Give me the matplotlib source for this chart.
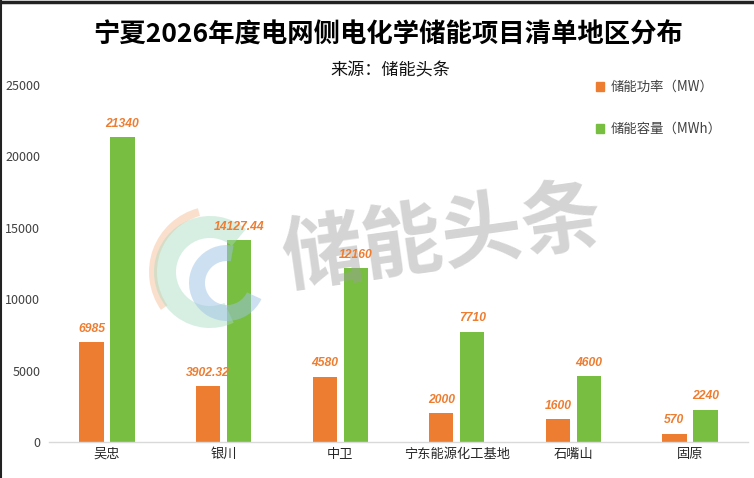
import matplotlib
matplotlib.use('Agg')
import matplotlib.pyplot as plt
from matplotlib.patches import Patch, Wedge
from matplotlib.lines import Line2D
import numpy as np

categories = ['吴忠', '银川', '中卫', '宁东能源化工基地', '石嘴山', '固原']
power_mw = [6985, 3902.32, 4580, 2000, 1600, 570]
capacity_mwh = [21340, 14127.44, 12160, 7710, 4600, 2240]
power_labels = ['6985', '3902.32', '4580', '2000', '1600', '570']
capacity_labels = ['21340', '14127.44', '12160', '7710', '4600', '2240']
yticks = [0, 5000, 10000, 15000, 20000, 25000]
series_names = ['储能功率（MW）', '储能容量（MWh）']
title = '宁夏2026年度电网侧电化学储能项目清单地区分布'
subtitle = '来源：储能头条'
watermark = '储能头条'

plt.rcParams['font.family'] = ['Noto Sans CJK SC', 'DejaVu Sans']

W, H = 754, 478
fig = plt.figure(figsize=(W / 100, H / 100), dpi=100)
fig.patch.set_facecolor('white')
ax = fig.add_axes([48.7 / W, 1 - 442 / H, 699.6 / W, 357 / H])

ORANGE = '#ED7D31'
GREEN = '#78BE40'
x = np.arange(len(categories))
bw = 0.206
off = 0.133
ax.bar(x - off, power_mw, bw, color=ORANGE, zorder=2)
ax.bar(x + off, capacity_mwh, bw, color=GREEN, zorder=2)
ax.set_xlim(-0.5, len(categories) - 0.5)
ax.set_ylim(0, 25000)
for s in ['top', 'right', 'left']:
    ax.spines[s].set_visible(False)
ax.spines['bottom'].set_color('#D9D9D9')
ax.spines['bottom'].set_linewidth(1.0)
ax.tick_params(axis='both', length=0)
ax.set_yticks(yticks)
ax.set_yticklabels([str(v) for v in yticks], fontsize=9, color='#404040')
ax.set_xticks(x)
ax.set_xticklabels(categories, fontsize=9.5, color='#262626')
ax.tick_params(axis='x', pad=4)
ax.tick_params(axis='y', pad=6)

lab_kw = dict(textcoords='offset points', ha='center', va='bottom',
              fontfamily='Liberation Sans', fontweight='bold', fontstyle='italic',
              fontsize=8.7, color=ORANGE, zorder=6, annotation_clip=False)
for xi, v, t in zip(x - off, power_mw, power_labels):
    ax.annotate(t, (xi, v), xytext=(0, 5.5), **lab_kw)
for xi, v, t in zip(x + off, capacity_mwh, capacity_labels):
    ax.annotate(t, (xi, v), xytext=(0, 5.5), **lab_kw)

# watermark
ax.text(443 / W, 1 - 240 / H, watermark, transform=fig.transFigure, fontsize=58,
        fontweight='bold', color='#A0A0A0', alpha=0.45, rotation=8,
        ha='center', va='center', zorder=4, clip_on=False)

# logo (pixel coords -> inches)
def px(xp, yp):
    return (xp / 100, (H - yp) / 100)

logo = [
    (px(215, 272), 0.66, 0.08, 105, 215, '#F4B183', 0.4),
    (px(210, 272), 0.56, 0.22, 50, 295, '#A8DCC0', 0.45),
    (px(227, 283), 0.38, 0.16, 80, 335, '#9DC3E6', 0.5),
]
for c, r, w, t1, t2, col, a in logo:
    wd = Wedge(c, r, t1, t2, width=w, transform=fig.dpi_scale_trans,
               facecolor=col, edgecolor='none', alpha=a, zorder=3, clip_on=False)
    ax.add_patch(wd)

handles = [Patch(color=ORANGE, label=series_names[0]),
           Patch(color=GREEN, label=series_names[1])]
leg = ax.legend(handles=handles, loc='upper left', bbox_to_anchor=(596 / W, 1 - 80 / H),
                bbox_transform=fig.transFigure, frameon=False, fontsize=9.6,
                handlelength=0.6, handleheight=0.6, handletextpad=0.5,
                labelspacing=2.1, borderpad=0, borderaxespad=0)
for t in leg.get_texts():
    t.set_color('#404040')

fig.text(388 / W, 1 - 35 / H, title, fontsize=19, fontweight='bold',
         ha='center', va='center', color='#000000')
fig.text(390 / W, 1 - 70 / H, subtitle, fontsize=12.3, ha='center', va='center',
         color='#111111')

# frame edges (top and left)
fig.add_artist(Line2D([0, 1], [1 - 1.5 / H, 1 - 1.5 / H], transform=fig.transFigure,
                      color='#222222', linewidth=2.5))
fig.add_artist(Line2D([1 / W, 1 / W], [0, 1], transform=fig.transFigure,
                      color='#222222', linewidth=1.5))

fig.savefig('out.png', dpi=100)
